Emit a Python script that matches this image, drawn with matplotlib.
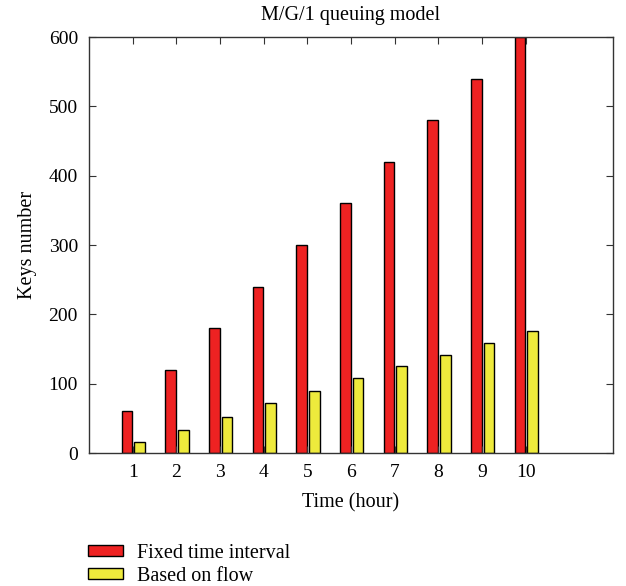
import numpy as np
import matplotlib.pyplot as plt
from matplotlib.patches import Patch

plt.rcParams['font.family'] = ['Liberation Serif', 'DejaVu Serif']

hours = [1, 2, 3, 4, 5, 6, 7, 8, 9, 10]
fixed_interval = [60, 120, 180, 240, 300, 360, 420, 480, 540, 600]
based_on_flow = [16, 33, 52, 72, 90, 108, 125, 141, 159, 176]

fig = plt.figure(figsize=(6.26, 5.86), dpi=100)
ax = fig.add_axes([89 / 626, 1 - 453 / 586, 524 / 626, 416 / 586])

x = np.array(hours)
w = 0.24
ax.bar(x - 0.13, fixed_interval, w, color='#ee2222', edgecolor='black', linewidth=1.0)
ax.bar(x + 0.16, based_on_flow, w, color='#eeea3c', edgecolor='black', linewidth=1.0)

ax.set_xlim(0, 12)
ax.set_ylim(0, 600)
ax.set_xticks(hours)
ax.set_yticks(range(0, 601, 100))
ax.tick_params(direction='in', top=True, right=True, length=5, labelsize=14,
               color='#333333', pad=8)
for s in ax.spines.values():
    s.set_color('#333333')
    s.set_linewidth(1.0)

ax.set_title('M/G/1 queuing model', fontsize=14.5, pad=12)
ax.set_xlabel('Time (hour)', fontsize=14.5, labelpad=9)
ax.set_ylabel('Keys number', fontsize=14.5, labelpad=8)

handles = [Patch(facecolor='#ee2222', edgecolor='black', label='Fixed time interval'),
           Patch(facecolor='#eeea3c', edgecolor='black', label='Based on flow')]
fig.legend(handles=handles, loc='upper left', bbox_to_anchor=(80 / 626, 1 - 536 / 586),
           frameon=False, fontsize=14.5, handlelength=1.75, handleheight=0.45,
           labelspacing=0.2, handletextpad=0.7, borderaxespad=0)

fig.savefig('out.png', dpi=100)
